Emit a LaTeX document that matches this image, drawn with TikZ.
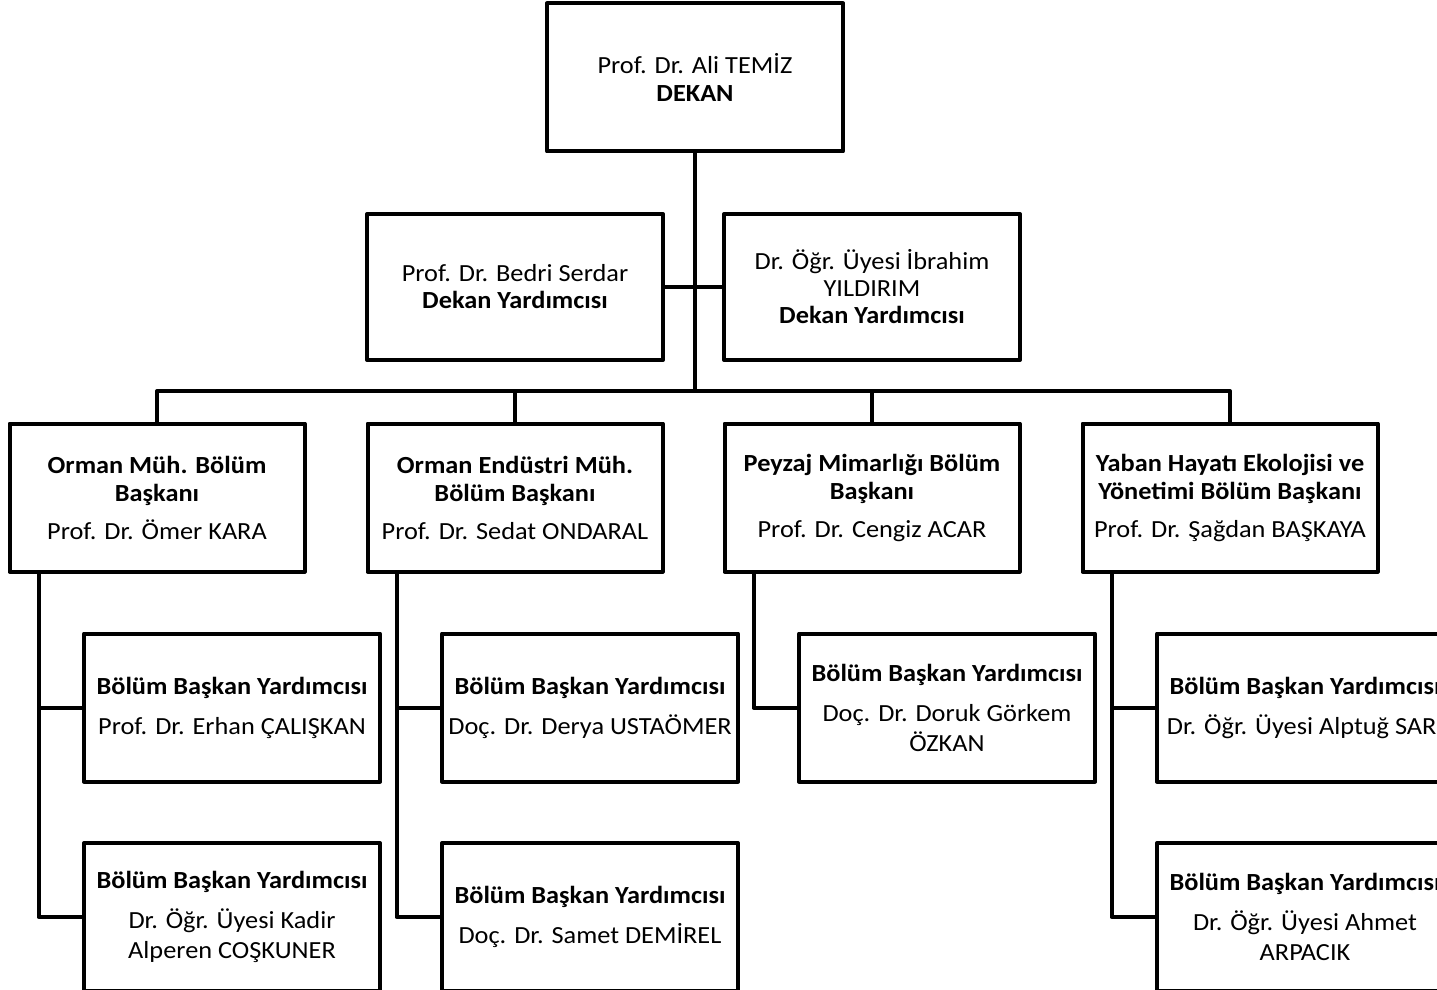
\documentclass[tikz,border=0pt]{standalone}
\usepackage{fontspec}
\setmainfont{Carlito}[FakeStretch=1.07]
\begin{document}
\begin{tikzpicture}[x=0.5pt,y=-0.5pt,
  box/.style={draw=black,line width=2pt,line join=round,fill=white,inner sep=0pt,
    minimum width=148pt,minimum height=74pt,align=center,
    font=\fontsize{12.3}{14}\selectfont},
  link/.style={draw=black,line width=2pt,line join=round}]
\useasboundingbox (0,0) rectangle (1437,990);
\fill[white] (0,0) rectangle (1437,990);
\clip (0,0) rectangle (1437,990);

% level 0
\node[box] (top) at (695,77.5) {Prof. Dr. Ali TEMİZ\\\textbf{DEKAN}};
% deputies
\node[box,minimum height=73pt] (dyl) at (515,287) {Prof. Dr. Bedri Serdar\\[-0.5pt]\textbf{Dekan Yardımcısı}};
\node[box,minimum height=73pt] (dyr) at (872,287) {Dr. Öğr. Üyesi İbrahim\\[-0.5pt]YILDIRIM\\[-0.5pt]\textbf{Dekan Yardımcısı}};
% level 2
\node[box,minimum width=147.5pt] (la) at (157,497.5) {\textbf{Orman Müh. Bölüm}\\\textbf{Başkanı}\\[5pt]Prof. Dr. Ömer KARA};
\node[box,minimum width=147.5pt] (lb) at (515,497.5) {\textbf{Orman Endüstri Müh.}\\\textbf{Bölüm Başkanı}\\[5pt]Prof. Dr. Sedat ONDARAL};
\node[box,minimum width=147.5pt] (lc) at (872,497.5) {\textbf{Peyzaj Mimarlığı Bölüm}\\\textbf{Başkanı}\\[5pt]Prof. Dr. Cengiz ACAR};
\node[box,minimum width=147.5pt] (ld) at (1230,497.5) {\textbf{Yaban Hayatı Ekolojisi ve}\\\textbf{Yönetimi Bölüm Başkanı}\\[5pt]Prof. Dr. Şağdan BAŞKAYA};
% level 3
\node[box] (a1) at (232,707.5) {\textbf{Bölüm Başkan Yardımcısı}\\[6pt]Prof. Dr. Erhan ÇALIŞKAN};
\node[box] (a2) at (232,917) {\textbf{Bölüm Başkan Yardımcısı}\\[6pt]Dr. Öğr. Üyesi Kadir\\[1pt]Alperen COŞKUNER};
\node[box] (b1) at (590,707.5) {\textbf{Bölüm Başkan Yardımcısı}\\[6pt]Doç. Dr. Derya USTAÖMER};
\node[box] (b2) at (590,917) {\textbf{Bölüm Başkan Yardımcısı}\\[6pt]Doç. Dr. Samet DEMİREL};
\node[box] (c1) at (947,707.5) {\textbf{Bölüm Başkan Yardımcısı}\\[6pt]Doç. Dr. Doruk Görkem\\[1pt]ÖZKAN};
\node[box] (d1) at (1305,707.5) {\textbf{Bölüm Başkan Yardımcısı}\\[6pt]Dr. Öğr. Üyesi Alptuğ SARI};
\node[box] (d2) at (1305,917) {\textbf{Bölüm Başkan Yardımcısı}\\[6pt]Dr. Öğr. Üyesi Ahmet\\[1pt]ARPACIK};

% connectors
\coordinate (bus) at (695,391);
\draw[link] (top.south) -- (top.south |- bus);
\draw[link] (dyl.east) -- (dyr.west);
\draw[link] (la.north) -- (la.north |- bus) -- (ld.north |- bus) -- (ld.north);
\draw[link] (lb.north) -- (lb.north |- bus);
\draw[link] (lc.north) -- (lc.north |- bus);

\path (la.south west) ++(31,0) coordinate (ca);
\path (lb.south west) ++(31,0) coordinate (cb);
\path (lc.south west) ++(31,0) coordinate (cc);
\path (ld.south west) ++(31,0) coordinate (cd);
\draw[link] (ca) |- (a2.west);
\draw[link] (ca |- a1.west) -- (a1.west);
\draw[link] (cb) |- (b2.west);
\draw[link] (cb |- b1.west) -- (b1.west);
\draw[link] (cc) |- (c1.west);
\draw[link] (cd) |- (d2.west);
\draw[link] (cd |- d1.west) -- (d1.west);
\end{tikzpicture}
\end{document}
